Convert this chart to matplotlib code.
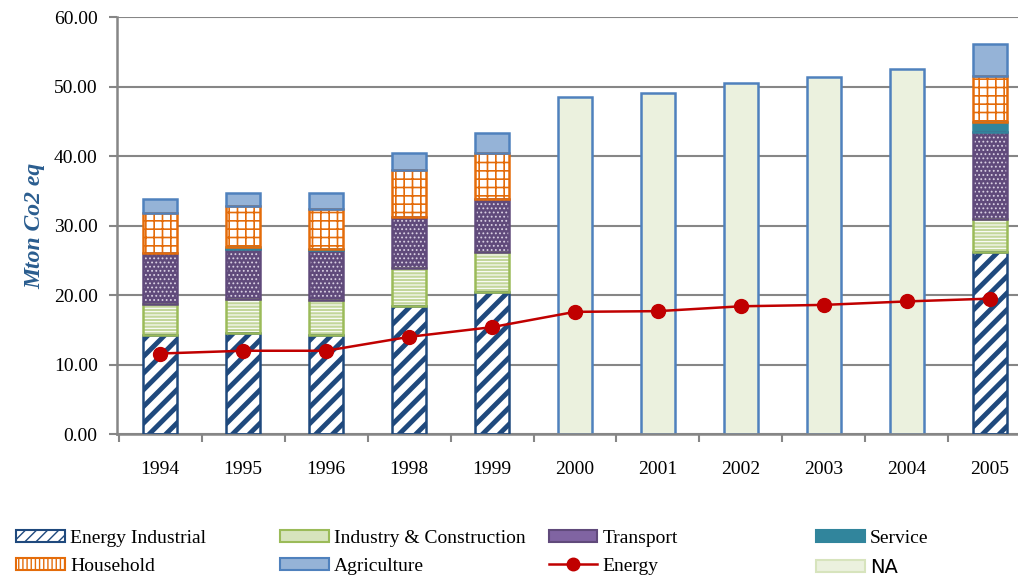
import numpy as np
import matplotlib
matplotlib.use("Agg")
import matplotlib.pyplot as plt
import matplotlib.patches as mpatches
from matplotlib.lines import Line2D

years = ["1994", "1995", "1996", "1998", "1999", "2000", "2001", "2002", "2003", "2004", "2005"]
energy_ind = [14.2, 14.5, 14.2, 18.5, 20.5, 0, 0, 0, 0, 0, 26.2]
industry = [4.5, 4.9, 5.1, 5.4, 5.7, 0, 0, 0, 0, 0, 4.8]
transport = [7.3, 7.3, 7.2, 7.3, 7.6, 0, 0, 0, 0, 0, 12.5]
service = [0.0, 0.3, 0.1, 0.0, 0.0, 0, 0, 0, 0, 0, 1.4]
household = [5.8, 5.9, 5.8, 6.8, 6.7, 0, 0, 0, 0, 0, 6.7]
agriculture = [2.1, 1.8, 2.3, 2.4, 2.8, 0, 0, 0, 0, 0, 4.5]
na_total = [0, 0, 0, 0, 0, 48.5, 49.1, 50.6, 51.4, 52.5, 0]
energy = [11.6, 12.0, 12.0, 14.0, 15.4, 17.6, 17.7, 18.4, 18.6, 19.1, 19.5]

plt.rcParams['font.family'] = ['Liberation Serif', 'DejaVu Serif']

fig = plt.figure(figsize=(10.18, 5.75), dpi=100)
ax = fig.add_axes([0.115, 0.245, 0.898, 0.725])

x = np.arange(len(years))
w = 0.41
grey = "#868686"

# (values, face, hatch colour, hatch, hatch lw, edge colour)
layers = [
    (energy_ind, "white", "#1F497D", "//", 3.5, "#1F497D"),
    (industry, "#C3D69B", "white", "-----", 0.8, "#9BBB59"),
    (transport, "#604A7B", "#D9D0E3", "....", 0.8, "#604A7B"),
    (service, "#31859C", None, None, 1.0, "#31859C"),
    (household, "white", "#E46C0A", "++", 1.2, "#E46C0A"),
    (agriculture, "#95B3D7", None, None, 1.0, "#4F81BD"),
]

bottom = np.zeros(len(years))
for vals, fc, hc, hatch, hlw, ec in layers:
    vals = np.array(vals)
    with plt.rc_context({'hatch.linewidth': hlw}):
        if hatch:
            ax.bar(x, vals, w, bottom=bottom, color=fc, edgecolor=hc, linewidth=0,
                   hatch=hatch, zorder=2)
        else:
            ax.bar(x, vals, w, bottom=bottom, color=fc, linewidth=0, zorder=2)
    mask = vals > 0.05
    ax.bar(x[mask], vals[mask], w, bottom=bottom[mask], fill=False, edgecolor=ec,
           linewidth=1.8, zorder=3)
    bottom += vals

ax.bar(x, na_total, w, color="#EBF1DE", edgecolor="#4F81BD", linewidth=1.8, zorder=2)

ax.plot(x, energy, color="#C00000", linewidth=1.8, marker="o", markersize=10, zorder=5)

ax.set_xlim(-0.52, len(years) - 0.5)
ax.set_ylim(0, 60)
ax.set_yticks(np.arange(0, 61, 10))
ax.set_yticklabels(["%.2f" % v for v in np.arange(0, 61, 10)], fontsize=14)
ax.set_xticks(x)
ax.set_xticklabels(years, fontsize=14)
ax.set_xticks(np.arange(-0.5, len(years), 1), minor=True)
ax.tick_params(axis='x', which='major', length=0, pad=19)
ax.tick_params(axis='x', which='minor', length=6, color=grey, width=1.5)
ax.tick_params(axis='y', length=6, color=grey, width=1.5, pad=8)
ax.yaxis.grid(True, color=grey, linewidth=1.5, zorder=0)
ax.set_axisbelow(True)
for s in ["top", "right"]:
    ax.spines[s].set_visible(False)
for s in ["left", "bottom"]:
    ax.spines[s].set_color(grey)
    ax.spines[s].set_linewidth(1.8)

ax.set_ylabel("Mton Co2 eq", fontsize=17, fontweight="bold", style="italic",
              color="#2A5D8F", labelpad=6)

# legend, four columns of two entries
def hp(fc, ec, hatch=None):
    return mpatches.Patch(facecolor=fc, edgecolor=ec, hatch=hatch, linewidth=1.5)

with plt.rc_context({'hatch.linewidth': 2.0}):
    h_ei = hp("white", "#1F497D", "///")
with plt.rc_context({'hatch.linewidth': 1.0}):
    h_hh = hp("white", "#E46C0A", "||||")
cols = [
    ([h_ei, h_hh], ["Energy Industrial", "Household"], 0.016),
    ([hp("#D7E4BD", "#9BBB59"), hp("#95B3D7", "#4F81BD")],
     ["Industry & Construction", "Agriculture"], 0.275),
    ([hp("#8064A2", "#604A7B"),
      Line2D([], [], color="#C00000", marker="o", markersize=9, linewidth=1.8)],
     ["Transport", "Energy"], 0.539),
    ([hp("#31859C", "#31859C"), hp("#EBF1DE", "#D7E4BD")], ["Service", "NA"], 0.802),
]
for handles, labels, xpos in cols:
    leg = fig.legend(handles, labels, loc="upper left", bbox_to_anchor=(xpos, 0.078),
                     frameon=False, fontsize=14, handlelength=2.5, handleheight=0.55,
                     handletextpad=0.26, labelspacing=0.55, borderpad=0, borderaxespad=0)
    if "NA" in labels:
        leg.get_texts()[1].set_family("DejaVu Sans")

fig.savefig("out.png", dpi=100)
